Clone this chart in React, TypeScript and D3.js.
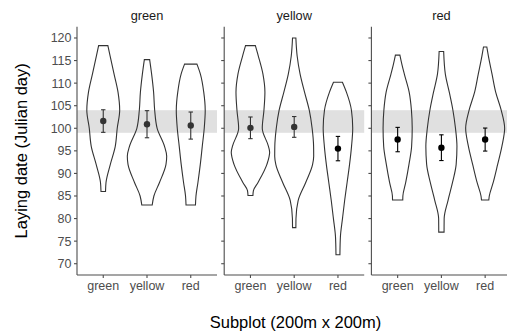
import { useRef, useEffect } from "react";
import * as d3 from "d3";

// facet (panel) names and the x categories inside each panel
const panels = ["green", "yellow", "red"];
const groups = ["green", "yellow", "red"];

// violin outlines: [laying date, half width]
const violins: [number, number][][][] = [
  [
    [[118.3, 4.7], [116, 7], [112, 11], [108, 15], [104, 16.7], [100, 14.2], [96, 12.2], [92, 7.2], [88, 2.8], [86, 2.3]],
    [[115.2, 2.7], [112, 4.7], [108, 6.7], [104, 7.8], [100, 10.3], [96, 17.8], [93.8, 20], [92, 19.3], [88, 12.7], [85, 7], [83, 5.3]],
    [[114.2, 6.3], [112, 9.8], [108, 13.2], [104, 14.7], [100, 13.7], [96, 11.7], [92, 9.7], [88, 7.3], [85, 5.3], [83, 4.8]],
  ],
  [
    [[118.3, 5], [116, 8], [112, 12.7], [108, 14.7], [104, 13.7], [100, 12], [96, 18.3], [94.7, 19.5], [92, 16.7], [88, 7.7], [86.2, 3], [85.1, 2.5]],
    [[120, 1.7], [116, 3], [112, 6], [108, 10.5], [104, 15.3], [100, 18.2], [96, 19.7], [93.8, 19.8], [92, 18.7], [88, 11.7], [84, 4], [80, 1.8], [78, 1.7]],
    [[110.2, 4.5], [108, 8.6], [104, 13.7], [100, 15], [96, 13.8], [92, 11.8], [88, 9.3], [84, 6.8], [80, 4.6], [76, 2.5], [72, 2]],
  ],
  [
    [[116.2, 2.3], [114, 4.5], [112, 6.8], [108, 11.7], [104, 14], [100, 14.8], [96, 14.2], [92, 11.5], [88, 8.2], [85, 5.3], [84.1, 5.2]],
    [[117, 2.3], [112, 4], [108, 8], [104, 11.7], [100, 14.3], [96, 15.8], [92, 15], [88, 11.3], [84, 6.7], [80, 2.8], [77, 2.7]],
    [[118, 1.7], [116, 3.3], [112, 7], [108, 10.7], [104, 16.3], [100, 19.8], [96, 17], [92, 12.7], [88, 8.2], [85, 4.2], [84.1, 3.7]],
  ],
];

// means and standard errors per panel / group
const means = [
  [101.6, 100.9, 100.6],
  [100.1, 100.3, 95.5],
  [97.5, 95.7, 97.5],
];
const errors = [
  [2.5, 3.0, 3.0],
  [2.4, 2.3, 2.7],
  [2.7, 2.85, 2.55],
];
const highlighted = [
  [false, false, false],
  [false, false, true],
  [true, true, true],
];

// reference band
const bandLow = 99;
const bandHigh = 104;
const yTicks = [70, 75, 80, 85, 90, 95, 100, 105, 110, 115, 120];

const App = () => {
  const svgRef = useRef<SVGSVGElement>(null);

  useEffect(() => {
    const svg = d3.select(svgRef.current);
    svg.selectAll("*").remove();

    const width = 507;
    const height = 333;
    const left = 77;
    const top = 26.7;
    const bottom = 275;
    const panelW = 140;
    const gap = 7.2;
    const font = "'Liberation Sans', Arial, sans-serif";
    const axisCol = "#4d4d4d";

    const y = d3.scaleLinear().domain([67.5, 122.5]).range([bottom, top]);
    const x = d3.scalePoint().domain(groups).range([0, panelW]).padding(0.6);
    const w = d3.scaleLinear().domain([0, 20]).range([0, x.step() * 0.45]);

    const g = svg.append("g").style("font-family", font);

    panels.forEach((p, pi) => {
      const px = left + pi * (panelW + gap);
      const pg = g.append("g").attr("transform", `translate(${px},0)`);

      pg.append("rect")
        .attr("x", 0)
        .attr("width", panelW)
        .attr("y", y(bandHigh))
        .attr("height", y(bandLow) - y(bandHigh))
        .attr("fill", "#e0e0e0");

      groups.forEach((grp, gi) => {
        const cx = x(grp)!;
        const area = d3
          .area<[number, number]>()
          .y((d) => y(d[0]))
          .x0((d) => cx - w(d[1]))
          .x1((d) => cx + w(d[1]))
          .curve(d3.curveMonotoneY);
        pg.append("path")
          .attr("d", area(violins[pi][gi]))
          .attr("fill", "none")
          .attr("stroke", "#333333")
          .attr("stroke-width", 1.1);

        const col = highlighted[pi][gi] ? "#000000" : "#333333";
        const m = means[pi][gi];
        const e = errors[pi][gi];
        pg.append("line")
          .attr("x1", cx).attr("x2", cx)
          .attr("y1", y(m - e)).attr("y2", y(m + e))
          .attr("stroke", col).attr("stroke-width", 1.1);
        [m - e, m + e].forEach((v) => {
          pg.append("line")
            .attr("x1", cx - 2.2).attr("x2", cx + 2.2)
            .attr("y1", y(v)).attr("y2", y(v))
            .attr("stroke", col).attr("stroke-width", 1.1);
        });
        pg.append("circle")
          .attr("cx", cx).attr("cy", y(m)).attr("r", 3.2)
          .attr("fill", col);
      });

      // y axis
      const ya = pg.append("g");
      ya.append("line")
        .attr("x1", 0).attr("x2", 0).attr("y1", top).attr("y2", bottom)
        .attr("stroke", axisCol).attr("stroke-width", 1.1);
      yTicks.forEach((t) => {
        ya.append("line")
          .attr("x1", -3).attr("x2", 0).attr("y1", y(t)).attr("y2", y(t))
          .attr("stroke", axisCol).attr("stroke-width", 1.1);
        if (pi === 0) {
          ya.append("text")
            .attr("x", -5.5).attr("y", y(t)).attr("dy", "0.35em")
            .attr("text-anchor", "end")
            .attr("font-size", 12.5)
            .attr("fill", axisCol)
            .text(t);
        }
      });

      // x axis
      const xa = pg.append("g");
      xa.append("line")
        .attr("x1", 0).attr("x2", panelW).attr("y1", bottom).attr("y2", bottom)
        .attr("stroke", axisCol).attr("stroke-width", 1.1);
      groups.forEach((grp) => {
        xa.append("line")
          .attr("x1", x(grp)!).attr("x2", x(grp)!)
          .attr("y1", bottom).attr("y2", bottom + 3)
          .attr("stroke", axisCol).attr("stroke-width", 1.1);
        xa.append("text")
          .attr("x", x(grp)!).attr("y", 290)
          .attr("text-anchor", "middle")
          .attr("font-size", 12.5)
          .attr("fill", axisCol)
          .text(grp);
      });

      // strip label
      pg.append("text")
        .attr("x", panelW / 2).attr("y", 19.5)
        .attr("text-anchor", "middle")
        .attr("font-size", 12.8)
        .attr("fill", "#1a1a1a")
        .text(p);
    });

    g.append("text")
      .attr("transform", `translate(26.5,${(top + bottom) / 2}) rotate(-90)`)
      .attr("text-anchor", "middle")
      .attr("font-size", 16.5)
      .attr("fill", "#000")
      .text("Laying date (Julian day)");

    g.append("text")
      .attr("x", 295.5).attr("y", 327.5)
      .attr("text-anchor", "middle")
      .attr("font-size", 16.5)
      .attr("fill", "#000")
      .text("Subplot (200m x 200m)");

    svg.attr("width", width).attr("height", height);
  }, []);

  return (
    <svg
      ref={svgRef}
      width={507}
      height={333}
      style={{ position: "absolute", left: 0, top: 0, background: "#fff" }}
    />
  );
};

export default App;
